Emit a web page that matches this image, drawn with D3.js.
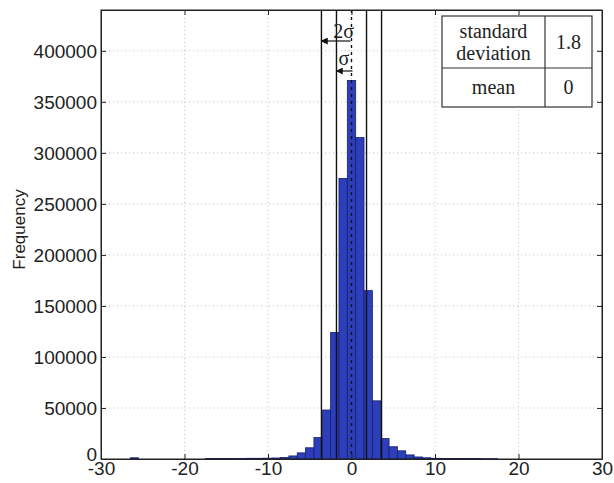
<!DOCTYPE html>
<html>
<head>
<meta charset="utf-8">
<script src="https://cdn.jsdelivr.net/npm/d3@7"></script>
<style>
  body { margin: 0; background: #fff; }
  svg { display: block; }
</style>
</head>
<body>
<svg id="chart"></svg>
<script>
// histogram bins (centre of each unit-wide bin) and their counts
const binCenters = [-26, -17, -16, -15, -14, -13, -12, -11, -10, -9, -8, -7, -6, -5, -4, -3, -2, -1,
                    0, 1, 2, 3, 4, 5, 6, 7, 8, 9, 10, 11, 12, 13, 14, 15, 16, 17];
const counts = [1200, 400, 500, 500, 600, 600, 700, 700, 800, 1000, 1500, 3000, 6000, 11000, 21000, 48000, 124000, 275000,
                371000, 315000, 165000, 57000, 20000, 12000, 8000, 4000, 2000, 1200, 700, 600, 500, 500, 400, 400, 300, 300];

const xTicks = [-30, -20, -10, 0, 10, 20, 30];
const yTicks = [0, 50000, 100000, 150000, 200000, 250000, 300000, 350000, 400000];

const sigma = 1.8;
const mean = 0;
const tableRows = [
    [["standard", "deviation"], ["1.8"]],
    [["mean"], ["0"]]
];

const W = 614, H = 483;
const margin = { top: 10, right: 12, bottom: 24, left: 101 };
const width = W - margin.left - margin.right;
const height = H - margin.top - margin.bottom;

const svg = d3.select("#chart").attr("width", W).attr("height", H);

const defs = svg.append("defs");
defs.append("marker")
    .attr("id", "arrow")
    .attr("viewBox", "0 0 10 10")
    .attr("refX", 9).attr("refY", 5)
    .attr("markerWidth", 7).attr("markerHeight", 7)
    .attr("markerUnits", "userSpaceOnUse")
    .attr("orient", "auto")
    .append("path")
    .attr("d", "M0,0 L10,5 L0,10 Z")
    .attr("fill", "#111");

const g = svg.append("g").attr("transform", `translate(${margin.left},${margin.top})`);

const x = d3.scaleLinear().domain([-30, 30]).range([0, width]);
const y = d3.scaleLinear().domain([0, 440000]).range([height, 0]);

// dotted grid
g.append("g")
    .selectAll("line")
    .data(xTicks.slice(1, -1))
    .join("line")
    .attr("x1", d => x(d)).attr("x2", d => x(d))
    .attr("y1", 0).attr("y2", height)
    .attr("stroke", "#c4c4c4").attr("stroke-dasharray", "1,3");

g.append("g")
    .selectAll("line")
    .data(yTicks.slice(1))
    .join("line")
    .attr("x1", 0).attr("x2", width)
    .attr("y1", d => y(d)).attr("y2", d => y(d))
    .attr("stroke", "#c4c4c4").attr("stroke-dasharray", "1,3");

// bars
g.append("g")
    .selectAll("rect")
    .data(binCenters.map((c, i) => ({ c, n: counts[i] })))
    .join("rect")
    .attr("x", d => x(d.c - 0.5))
    .attr("width", d => x(d.c + 0.5) - x(d.c - 0.5))
    .attr("y", d => y(d.n))
    .attr("height", d => height - y(d.n))
    .attr("fill", "#2c3eba")
    .attr("stroke", "#17206e")
    .attr("stroke-width", 0.8);

// sigma lines
g.append("g")
    .selectAll("line")
    .data([mean - 2 * sigma, mean - sigma, mean + sigma, mean + 2 * sigma])
    .join("line")
    .attr("x1", d => x(d)).attr("x2", d => x(d))
    .attr("y1", 0).attr("y2", height)
    .attr("stroke", "#111").attr("stroke-width", 1.4);

// mean line
g.append("line")
    .attr("x1", x(mean)).attr("x2", x(mean))
    .attr("y1", 0).attr("y2", height)
    .attr("stroke", "#111").attr("stroke-width", 1.4)
    .attr("stroke-dasharray", "3,4");

// annotations
const serif = "'Liberation Serif', 'Times New Roman', serif";
g.append("line")
    .attr("x1", x(mean) - 1).attr("x2", x(mean - 2 * sigma))
    .attr("y1", 31).attr("y2", 31)
    .attr("stroke", "#111").attr("stroke-width", 1.2)
    .attr("marker-end", "url(#arrow)");
g.append("text")
    .attr("x", x(mean - 0.95)).attr("y", 28)
    .attr("text-anchor", "middle")
    .style("font-family", serif)
    .style("font-size", "20px").attr("fill", "#222")
    .text("2σ");

g.append("line")
    .attr("x1", x(mean) + 1).attr("x2", x(mean - sigma))
    .attr("y1", 61).attr("y2", 61)
    .attr("stroke", "#111").attr("stroke-width", 1.2)
    .attr("marker-end", "url(#arrow)");
g.append("text")
    .attr("x", x(mean - sigma / 2)).attr("y", 55)
    .attr("text-anchor", "middle")
    .style("font-family", serif)
    .style("font-size", "20px").attr("fill", "#222")
    .text("σ");

// axes (matlab style box with inward ticks)
const font = "'Liberation Sans', Arial, sans-serif";
const xAxis = g.append("g").attr("transform", `translate(0,${height})`)
    .call(d3.axisBottom(x).tickValues(xTicks).tickFormat(d => String(d)).tickSizeInner(-5).tickSizeOuter(0).tickPadding(5));
const yAxis = g.append("g")
    .call(d3.axisLeft(y).tickValues(yTicks).tickFormat(d => String(d)).tickSizeInner(-5).tickSizeOuter(0).tickPadding(4));
g.append("g").attr("transform", `translate(${width},0)`)
    .call(d3.axisRight(y).tickValues(yTicks).tickFormat("").tickSizeInner(-5).tickSizeOuter(0));
g.append("g")
    .call(d3.axisTop(x).tickValues(xTicks).tickFormat("").tickSizeInner(-5).tickSizeOuter(0));

g.selectAll(".domain").attr("stroke", "#222");
g.selectAll(".tick line").attr("stroke", "#222");
[xAxis, yAxis].forEach(a => a.selectAll("text")
    .style("font-family", font).style("font-size", "19px").attr("fill", "#222"));
xAxis.selectAll("text").attr("dy", "0.6em");
yAxis.selectAll("text").attr("dy", "0.36em");
// the zero label sits a touch higher, as in the original
yAxis.selectAll("text").filter(d => d === 0).attr("dy", "0.1em");

g.append("rect")
    .attr("width", width).attr("height", height)
    .attr("fill", "none").attr("stroke", "#222");

svg.append("text")
    .attr("transform", `translate(25,${margin.top + height / 2 - 5}) rotate(-90)`)
    .attr("text-anchor", "middle")
    .style("font-family", font).style("font-size", "17px").attr("fill", "#222")
    .text("Frequency");

// table box
const tbl = svg.append("g").attr("transform", "translate(442,16)");
const colW = [103, 47];
const rowH = [52, 39];
tbl.append("rect")
    .attr("width", d3.sum(colW)).attr("height", d3.sum(rowH))
    .attr("fill", "#fff").attr("stroke", "#333").attr("stroke-width", 1.2);
tbl.append("line")
    .attr("x1", colW[0]).attr("x2", colW[0]).attr("y1", 0).attr("y2", d3.sum(rowH))
    .attr("stroke", "#333").attr("stroke-width", 1.2);
tbl.append("line")
    .attr("x1", 0).attr("x2", d3.sum(colW)).attr("y1", rowH[0]).attr("y2", rowH[0])
    .attr("stroke", "#333").attr("stroke-width", 1.2);

tableRows.forEach((row, ri) => {
    const y0 = d3.sum(rowH.slice(0, ri));
    row.forEach((cell, ci) => {
        const x0 = d3.sum(colW.slice(0, ci));
        const lh = 22;
        const start = y0 + rowH[ri] / 2 - (cell.length - 1) * lh / 2;
        cell.forEach((line, li) => {
            tbl.append("text")
                .attr("x", x0 + colW[ci] / 2)
                .attr("y", start + li * lh)
                .attr("dy", "0.33em")
                .attr("text-anchor", "middle")
                .style("font-family", serif)
                .style("font-size", "20px").attr("fill", "#222")
                .text(line);
        });
    });
});
</script>
</body>
</html>
